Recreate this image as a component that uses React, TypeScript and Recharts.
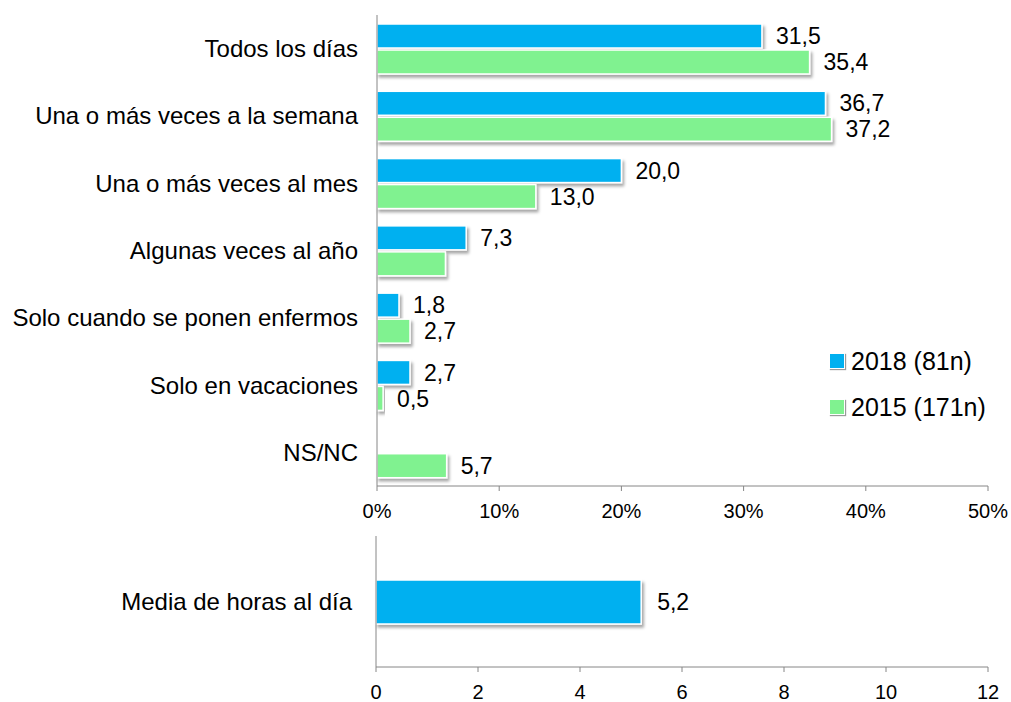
import React from 'react';
import { BarChart, Bar, XAxis, YAxis, LabelList, Legend } from 'recharts';

const categories = [
  'Todos los días',
  'Una o más veces a la semana',
  'Una o más veces al mes',
  'Algunas veces al año',
  'Solo cuando se ponen enfermos',
  'Solo en vacaciones',
  'NS/NC',
];
const values2018: (number | null)[] = [31.5, 36.7, 20.0, 7.3, 1.8, 2.7, null];
const values2015: (number | null)[] = [35.4, 37.2, 13.0, 5.6, 2.7, 0.5, 5.7];
const labels2018: (string | null)[] = ['31,5', '36,7', '20,0', '7,3', '1,8', '2,7', null];
const labels2015: (string | null)[] = ['35,4', '37,2', '13,0', null, '2,7', '0,5', '5,7'];
const percentTicks = [0, 10, 20, 30, 40, 50];
const seriesOrder = ['v2018', 'v2015'];

const mediaCategories = ['Media de horas al día'];
const mediaValues = [5.2];
const mediaLabels = ['5,2'];
const hourTicks = [0, 2, 4, 6, 8, 10, 12];

const BLUE = '#00B0F0';
const GREEN = '#80F290';
const AXIS = '#868686';
const FONT = '"Liberation Sans", Arial, sans-serif';

const mainData = categories.map((c, i) => ({
  cat: c,
  v2018: values2018[i],
  v2015: values2015[i],
  l2018: labels2018[i],
  l2015: labels2015[i],
}));
const mediaData = mediaCategories.map((c, i) => ({ cat: c, v: mediaValues[i], l: mediaLabels[i] }));

const makeShape = (filterId: string) => (props: any) => {
  const { x, y, width, height, fill } = props;
  if (!width || width <= 0 || !height) return <g />;
  return (
    <rect
      x={x}
      y={y}
      width={width}
      height={height}
      fill={fill}
      stroke="#fff"
      strokeWidth={1.5}
      filter={`url(#${filterId})`}
    />
  );
};

const LegendContent = (props: any) => {
  const payload = [...(props.payload || [])].sort(
    (a: any, b: any) => seriesOrder.indexOf(a.dataKey) - seriesOrder.indexOf(b.dataKey)
  );
  return (
    <div style={{ fontFamily: FONT, fontSize: 25, color: '#000' }}>
      {payload.map((p: any) => (
        <div key={p.value} style={{ display: 'flex', alignItems: 'center', height: 46 }}>
          <span
            style={{
              display: 'inline-block',
              width: 14,
              height: 14,
              background: p.color,
              boxShadow: '1px 1px 1px #9a9a9a',
              border: '1px solid #fff',
              marginRight: 6,
            }}
          />
          <span>{p.value}</span>
        </div>
      ))}
    </div>
  );
};

const labelStyle = { fill: '#000', fontSize: 23, fontFamily: FONT };

export default function App() {
  return (
    <div style={{ position: 'absolute', left: 0, top: 0, width: 1011, height: 702, background: '#fff', fontFamily: FONT }}>
      <div style={{ position: 'absolute', left: 0, top: 0 }}>
        <BarChart
          width={1011}
          height={530}
          data={mainData}
          layout="vertical"
          margin={{ top: 15, right: 23, bottom: 14, left: 0 }}
          barSize={24}
          barGap={2}
        >
          <defs>
            <filter id="shadowTop" x="-10%" y="-30%" width="130%" height="180%">
              <feDropShadow dx="2" dy="3" stdDeviation="1.5" floodColor="#000" floodOpacity="0.35" />
            </filter>
          </defs>
          <XAxis
            type="number"
            domain={[0, 50]}
            ticks={percentTicks}
            tickFormatter={(v: number) => `${v}%`}
            stroke={AXIS}
            tickSize={5}
            tickMargin={13}
            height={30}
            tick={{ fill: '#000', fontSize: 20, fontFamily: FONT }}
          />
          <YAxis
            type="category"
            dataKey="cat"
            width={377}
            stroke={AXIS}
            tickLine={false}
            tickSize={0}
            tickMargin={19}
            tick={{ fill: '#000', fontSize: 24, fontFamily: FONT }}
          />
          <Legend
            layout="vertical"
            align="center"
            verticalAlign="middle"
            itemSorter={null as any}
            content={<LegendContent />}
            wrapperStyle={{ left: 829, top: 338, width: 182, height: 92 }}
          />
          <Bar dataKey="v2018" name="2018 (81n)" fill={BLUE} isAnimationActive={false} shape={makeShape('shadowTop')}>
            <LabelList dataKey="l2018" position="right" offset={14} style={labelStyle} />
          </Bar>
          <Bar dataKey="v2015" name="2015 (171n)" fill={GREEN} isAnimationActive={false} shape={makeShape('shadowTop')}>
            <LabelList dataKey="l2015" position="right" offset={14} style={labelStyle} />
          </Bar>
        </BarChart>
      </div>
      <div style={{ position: 'absolute', left: 0, top: 525 }}>
        <BarChart
          width={1011}
          height={177}
          data={mediaData}
          layout="vertical"
          margin={{ top: 11, right: 23, bottom: 5, left: 0 }}
          barSize={44}
        >
          <defs>
            <filter id="shadowBottom" x="-10%" y="-30%" width="130%" height="180%">
              <feDropShadow dx="2" dy="3" stdDeviation="1.5" floodColor="#000" floodOpacity="0.35" />
            </filter>
          </defs>
          <XAxis
            type="number"
            domain={[0, 12]}
            ticks={hourTicks}
            stroke={AXIS}
            tickSize={5}
            tickMargin={13}
            height={30}
            tick={{ fill: '#000', fontSize: 20, fontFamily: FONT }}
          />
          <YAxis
            type="category"
            dataKey="cat"
            width={376}
            stroke={AXIS}
            tickLine={false}
            tickSize={0}
            tickMargin={24}
            tick={{ fill: '#000', fontSize: 24, fontFamily: FONT }}
          />
          <Bar dataKey="v" fill={BLUE} isAnimationActive={false} shape={makeShape('shadowBottom')}>
            <LabelList dataKey="l" position="right" offset={16} style={labelStyle} />
          </Bar>
        </BarChart>
      </div>
    </div>
  );
}
